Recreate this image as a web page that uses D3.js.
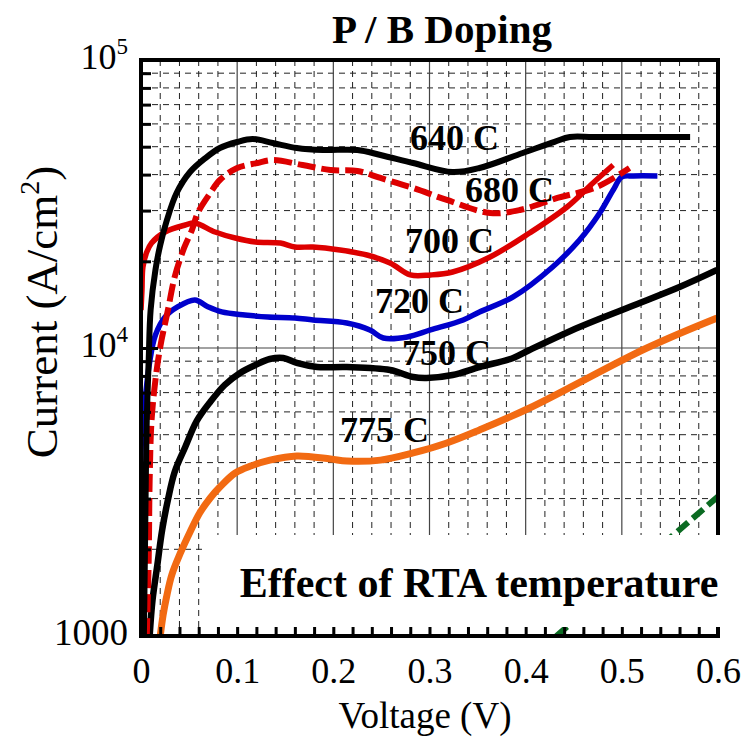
<!DOCTYPE html>
<html>
<head>
<meta charset="utf-8">
<script src="https://cdn.jsdelivr.net/npm/d3@7/dist/d3.min.js"></script>
<style>
  html, body { margin: 0; padding: 0; background: #fff; }
  svg { display: block; }
  text { font-family: "Liberation Serif", "Times New Roman", serif; }
</style>
</head>
<body>
<svg id="chart" width="756" height="738"></svg>
<script>
// ---------------- data ----------------
const xTickLabels = [0, 0.1, 0.2, 0.3, 0.4, 0.5, 0.6];
const yMajorTicks = [1000, 10000, 100000];
const yMinorTicks = [2000, 3000, 4000, 5000, 6000, 7000, 8000, 9000,
                     20000, 30000, 40000, 50000, 60000, 70000, 80000, 90000];

const v640 = [0.003,0.004,0.005,0.006,0.008,0.010,0.015,0.020,0.027,0.037,0.051,0.067,0.082,0.100,0.116,0.137,0.162,0.189,0.225,0.249,0.283,0.324,0.352,0.397,0.430,0.446,0.470,0.520,0.571];
const i640 = [1000,1840,3480,5620,9085,13550,18660,22780,27830,34530,40840,45660,49490,51920,53180,51510,49490,48700,48700,46800,43890,40840,42170,47550,52000,54030,54030,54030,54030];

const v680 = [0.006,0.008,0.009,0.011,0.015,0.020,0.028,0.035,0.044,0.053,0.059,0.072,0.082,0.100,0.121,0.137,0.168,0.197,0.225,0.249,0.283,0.318,0.363,0.394,0.433,0.474,0.508];
const i680 = [1000,1840,3480,5620,7740,10080,13550,17640,21890,25690,29430,34530,38310,42170,43890,44960,43190,41500,41170,38940,35940,32660,29430,30140,33180,36230,42170];

const v700 = [0.000,0.001,0.002,0.006,0.011,0.025,0.046,0.056,0.077,0.098,0.119,0.145,0.160,0.179,0.207,0.235,0.259,0.280,0.301,0.324,0.363,0.404,0.443,0.470,0.491];
const i700 = [13550,15900,19110,21540,23150,25280,26730,27160,25280,24090,23340,23150,22420,22420,21890,21030,19730,17930,17930,18360,20700,25070,30870,37410,43190];

const v720 = [0.000,0.000,0.002,0.005,0.009,0.015,0.025,0.038,0.056,0.070,0.084,0.108,0.132,0.160,0.179,0.214,0.238,0.252,0.277,0.301,0.335,0.352,0.387,0.428,0.456,0.477,0.491,0.500,0.512,0.537];
const i720 = [1629,4424,5620,6980,8940,11090,12810,13880,14680,13880,13340,13020,12810,12710,12510,12210,11550,10830,10920,11550,12510,13340,15040,19110,23710,29430,35370,39250,39560,39560];

const v750 = [0.009,0.012,0.017,0.022,0.028,0.035,0.046,0.058,0.072,0.087,0.103,0.119,0.134,0.148,0.162,0.183,0.214,0.259,0.283,0.297,0.324,0.352,0.387,0.404,0.456,0.508,0.560,0.599];
const i750 = [1000,1334,1764,2334,2970,3710,4530,5580,6494,7438,8190,8730,9159,9234,8870,8590,8590,8390,7930,7870,8060,8590,9234,9842,11830,13880,16280,18660];

const v775 = [0.020,0.023,0.027,0.032,0.041,0.051,0.061,0.072,0.082,0.098,0.114,0.134,0.162,0.197,0.214,0.249,0.283,0.318,0.352,0.404,0.526,0.599];
const i775 = [1000,1183,1388,1629,1942,2296,2674,3015,3290,3681,3893,4080,4220,4118,4050,4080,4320,4680,5192,6190,10000,12710];

const vRef = [0.432, 0.6];
const iRef = [1000, 3050];

const seriesNames = ["640 C", "680 C", "700 C", "720 C", "750 C", "775 C"];

// ---------------- layout ----------------
const svg = d3.select("#chart");
const L = 141, R = 718, T = 60, B = 636;
const x = d3.scaleLinear().domain([0, 0.6]).range([L, R]);
const y = d3.scaleLog().domain([1000, 100000]).range([B, T]);

const zip = (a, b) => a.map((v, k) => [v, b[k]]);

// gridlines
const g = svg.append("g");
const xMinor = d3.range(0, 31).map(k => +(k * 0.02).toFixed(2)).filter(v => Math.abs(v * 10 - Math.round(v * 10)) > 1e-6);
const xMajor = [0.1, 0.2, 0.3, 0.4, 0.5];
g.selectAll(".vgm").data(xMinor).join("line")
  .attr("x1", d => x(d)).attr("x2", d => x(d)).attr("y1", T).attr("y2", B)
  .attr("stroke", "#222").attr("stroke-width", 1).attr("stroke-dasharray", "6,5");
g.selectAll(".hgm").data(yMinorTicks).join("line")
  .attr("x1", L).attr("x2", R).attr("y1", d => y(d)).attr("y2", d => y(d))
  .attr("stroke", "#222").attr("stroke-width", 1).attr("stroke-dasharray", "6,5");
g.selectAll(".vgM").data(xMajor).join("line")
  .attr("x1", d => x(d)).attr("x2", d => x(d)).attr("y1", T).attr("y2", B)
  .attr("stroke", "#444").attr("stroke-width", 1.2);
g.selectAll(".hgM").data([10000]).join("line")
  .attr("x1", L).attr("x2", R).attr("y1", d => y(d)).attr("y2", d => y(d))
  .attr("stroke", "#444").attr("stroke-width", 1.2);

// clip
svg.append("clipPath").attr("id", "clip").append("rect")
  .attr("x", L).attr("y", T).attr("width", R - L).attr("height", B - T);

const line = d3.line().x(d => x(d[0])).y(d => y(d[1])).curve(d3.curveCatmullRom.alpha(0.5));
const curves = svg.append("g").attr("clip-path", "url(#clip)");

const series = [
  { name: "ref", data: zip(vRef, iRef), color: "#0b6b22", w: 6, dash: "14,6", cap: "butt" },
  { name: seriesNames[5], data: zip(v775, i775), color: "#f26a12", w: 7 },
  { name: seriesNames[4], data: zip(v750, i750), color: "#000", w: 6.5 },
  { name: seriesNames[3], data: zip(v720, i720), color: "#0000cc", w: 5.5 },
  { name: seriesNames[2], data: zip(v700, i700), color: "#dd0000", w: 5.5 },
  { name: seriesNames[1], data: zip(v680, i680), color: "#dd0000", w: 6, dash: "18,6", cap: "butt" },
  { name: seriesNames[0], data: zip(v640, i640), color: "#000", w: 6 }
];
curves.selectAll("path").data(series).join("path")
  .attr("d", d => line(d.data))
  .attr("fill", "none")
  .attr("stroke", d => d.color)
  .attr("stroke-width", d => d.w)
  .attr("stroke-dasharray", d => d.dash || null)
  .attr("stroke-linejoin", "round")
  .attr("stroke-linecap", d => d.cap || "butt");

// frame
svg.append("rect").attr("x", L).attr("y", T).attr("width", R - L).attr("height", B - T)
  .attr("fill", "none").attr("stroke", "#000").attr("stroke-width", 4);

// white box over the lower right
svg.append("rect").attr("x", 206).attr("y", 535).attr("width", 530).attr("height", 92)
  .attr("fill", "#fff");

// ticks (inward)
const xAxisTicks = d3.axisBottom(x).tickValues(d3.range(0, 31).map(k => k * 0.02)).tickSize(-9).tickFormat("");
svg.append("g").attr("transform", `translate(0,${B})`).call(xAxisTicks)
  .call(s => s.select(".domain").remove())
  .selectAll("line").attr("stroke", "#000").attr("stroke-width", 3);

const yMinorAxis = d3.axisLeft(y).tickValues(yMinorTicks).tickSize(-10).tickFormat("");
svg.append("g").attr("transform", `translate(${L},0)`).call(yMinorAxis)
  .call(s => s.select(".domain").remove())
  .selectAll("line").attr("stroke", "#000").attr("stroke-width", 3);
const yMajorAxis = d3.axisLeft(y).tickValues(yMajorTicks).tickSize(-17).tickFormat("");
svg.append("g").attr("transform", `translate(${L},0)`).call(yMajorAxis)
  .call(s => s.select(".domain").remove())
  .selectAll("line").attr("stroke", "#000").attr("stroke-width", 3);

svg.append("line").attr("x1", L - 2).attr("x2", R + 2).attr("y1", B).attr("y2", B)
  .attr("stroke", "#000").attr("stroke-width", 4);
svg.append("line").attr("x1", R).attr("x2", R).attr("y1", 627).attr("y2", B + 2)
  .attr("stroke", "#000").attr("stroke-width", 4);
svg.append("line").attr("x1", L).attr("x2", L).attr("y1", T).attr("y2", B + 2)
  .attr("stroke", "#000").attr("stroke-width", 4);

// x tick labels
const xLab = d3.axisBottom(x).tickValues(xTickLabels).tickSize(0).tickPadding(0)
  .tickFormat(d => d === 0 ? "0" : d3.format(".1f")(d));
const xl = svg.append("g").attr("transform", `translate(0,${B})`).call(xLab);
xl.select(".domain").remove();
xl.selectAll("text").attr("y", 47).attr("dy", null)
  .attr("font-family", "Liberation Serif").attr("font-size", 36).attr("fill", "#000");

// y tick labels
const yl = svg.append("g");
const yLabelData = [
  { v: 100000, base: "10", sup: "5" },
  { v: 10000, base: "10", sup: "4" },
  { v: 1000, base: "1000", sup: null }
];
yLabelData.forEach(d => {
  const t = yl.append("text").attr("x", 128).attr("y", y(d.v) + 9)
    .attr("text-anchor", "end").attr("font-size", d.sup ? 36 : 37).attr("fill", "#000");
  if (d.sup) {
    t.append("tspan").text(d.base);
    t.append("tspan").attr("font-size", 23).attr("dy", -15).text(d.sup);
  } else {
    t.text(d.base);
  }
});

// axis titles
svg.append("text").attr("x", 425).attr("y", 728).attr("text-anchor", "middle")
  .attr("font-size", 37).attr("fill", "#000").text("Voltage (V)");
const yt = svg.append("text").attr("transform", "translate(57,312) rotate(-90)")
  .attr("text-anchor", "middle").attr("font-size", 45).attr("fill", "#000");
yt.append("tspan").text("Current (A/cm");
yt.append("tspan").attr("font-size", 28).attr("dy", -18).text("2");
yt.append("tspan").attr("dy", 18).text(")");

// title
svg.append("text").attr("x", 442).attr("y", 43).attr("text-anchor", "middle")
  .attr("font-size", 41).attr("font-weight", "bold").attr("fill", "#000").text("P / B Doping");

// box text
svg.append("text").attr("x", 479).attr("y", 597).attr("text-anchor", "middle")
  .attr("font-size", 42).attr("font-weight", "bold").attr("fill", "#000").text("Effect of RTA temperature");

// curve labels
const labelPos = [
  { name: seriesNames[0], x: 410, y: 150 },
  { name: seriesNames[1], x: 465, y: 202 },
  { name: seriesNames[2], x: 405, y: 253 },
  { name: seriesNames[3], x: 375, y: 313 },
  { name: seriesNames[4], x: 402, y: 365 },
  { name: seriesNames[5], x: 340, y: 442 }
];
svg.append("g").selectAll("text").data(labelPos).join("text")
  .attr("x", d => d.x).attr("y", d => d.y)
  .attr("font-size", 36).attr("font-weight", "bold").attr("fill", "#000")
  .text(d => d.name);
</script>
</body>
</html>
